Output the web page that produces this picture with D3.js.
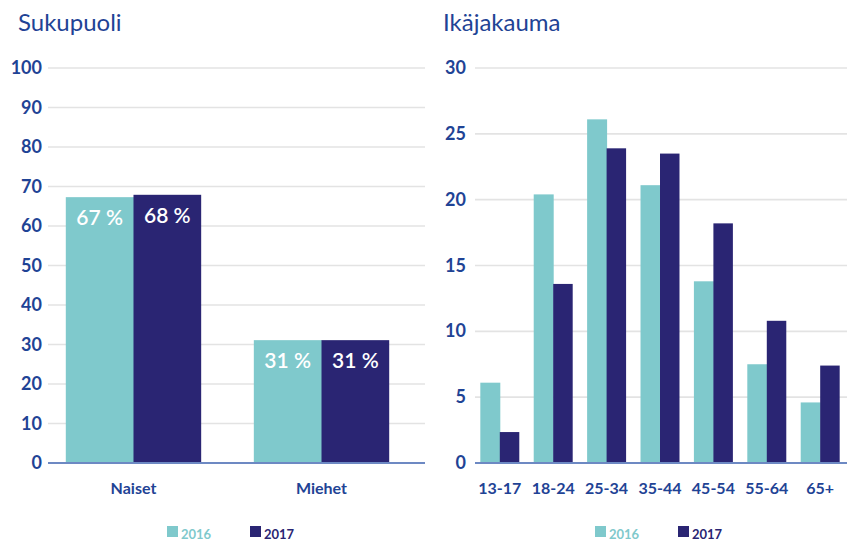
<!DOCTYPE html>
<html><head><meta charset="utf-8">
<script src="https://cdn.jsdelivr.net/npm/d3@7"></script>
<style>body{margin:0;background:#fff}svg{display:block}text{font-family:Lato,"Open Sans",sans-serif}</style>
</head><body>
<svg id="c" width="847" height="542"></svg>
<script>
const genderCats = ["Naiset", "Miehet"];
const gender2016 = [67.3, 31.1];
const gender2017 = [67.9, 31.1];
const genderLabels2016 = ["67 %", "31 %"];
const genderLabels2017 = ["68 %", "31 %"];
const genderTicks = [0, 10, 20, 30, 40, 50, 60, 70, 80, 90, 100];

const ageCats = ["13-17", "18-24", "25-34", "35-44", "45-54", "55-64", "65+"];
const age2016 = [6.1, 20.4, 26.1, 21.1, 13.8, 7.5, 4.6];
const age2017 = [2.35, 13.6, 23.9, 23.5, 18.2, 10.8, 7.4];
const ageTicks = [0, 5, 10, 15, 20, 25, 30];

const years = ["2016", "2017"];
const C16 = "#7fc9cc", C17 = "#2a2573", TXT = "#1f4395", BASE = "#6d89c3", GRID = "#e3e3e3";

const svg = d3.select("#c");

function panel(opt) {
  const g = svg.append("g");
  const y = d3.scaleLinear().domain([0, opt.max]).range([463, 68]);
  g.selectAll("line.grid").data(opt.ticks.filter(t => t > 0)).join("line")
    .attr("x1", opt.gx0).attr("x2", opt.gx1)
    .attr("y1", d => y(d)).attr("y2", d => y(d))
    .attr("stroke", GRID).attr("stroke-width", 1.6);
  g.selectAll("text.yl").data(opt.ticks).join("text")
    .attr("x", opt.lx).attr("y", d => y(d) + 6)
    .attr("text-anchor", "end").attr("fill", TXT)
    .attr("font-size", 18).attr("font-weight", 700)
    .text(d => d);
  const x0 = d3.scaleBand().domain(opt.cats).range(opt.range)
    .paddingInner(opt.pi).paddingOuter(opt.po);
  const x1 = d3.scaleBand().domain(years).range([0, x0.bandwidth()]);
  const groups = g.selectAll("g.grp").data(opt.cats).join("g")
    .attr("transform", d => `translate(${x0(d)},0)`);
  [opt.v16, opt.v17].forEach((vals, k) => {
    groups.append("rect")
      .attr("x", x1(years[k])).attr("width", x1.bandwidth() + (k === 0 ? 0.5 : 0))
      .attr("y", (d, i) => y(vals[i]))
      .attr("height", (d, i) => y(0) - y(vals[i]))
      .attr("fill", k === 0 ? C16 : C17);
    if (opt.labels) {
      groups.append("text")
        .attr("x", x1(years[k]) + x1.bandwidth() / 2)
        .attr("y", (d, i) => y(vals[i]) + 28)
        .attr("text-anchor", "middle").attr("fill", "#fff")
        .attr("font-size", 21).attr("font-weight", 600)
        .text((d, i) => opt.labels[k][i]);
    }
  });
  g.append("line").attr("x1", opt.gx0).attr("x2", opt.gx1)
    .attr("y1", y(0)).attr("y2", y(0)).attr("stroke", BASE).attr("stroke-width", 2);
  g.selectAll("text.cl").data(opt.cats).join("text")
    .attr("x", d => x0(d) + x0.bandwidth() / 2).attr("y", 494)
    .attr("text-anchor", "middle").attr("fill", TXT)
    .attr("font-size", 16).attr("font-weight", 700)
    .text(d => d);
  g.append("text").attr("x", opt.tx).attr("y", 31).attr("fill", TXT)
    .attr("font-size", 24).text(opt.title);
  years.forEach((yr, k) => {
    const lx = opt.legX + k * 83;
    g.append("rect").attr("x", lx).attr("y", 526).attr("width", 11).attr("height", 11)
      .attr("fill", k === 0 ? C16 : C17);
    g.append("text").attr("x", lx + 14).attr("y", 539)
      .attr("fill", k === 0 ? C16 : C17).attr("font-size", 13).attr("font-weight", 700)
      .text(yr);
  });
}

panel({cats: genderCats, v16: gender2016, v17: gender2017, labels: [genderLabels2016, genderLabels2017],
  ticks: genderTicks, max: 100, gx0: 48, gx1: 425, lx: 42, range: [47, 408], pi: 0.28, po: 0.1,
  title: "Sukupuoli", tx: 18, legX: 167});
panel({cats: ageCats, v16: age2016, v17: age2017, labels: null,
  ticks: ageTicks, max: 30, gx0: 475, gx1: 847, lx: 466, range: [473, 847], pi: 0.27, po: 0.137,
  title: "Ikäjakauma", tx: 443, legX: 595});
</script>
</body></html>
